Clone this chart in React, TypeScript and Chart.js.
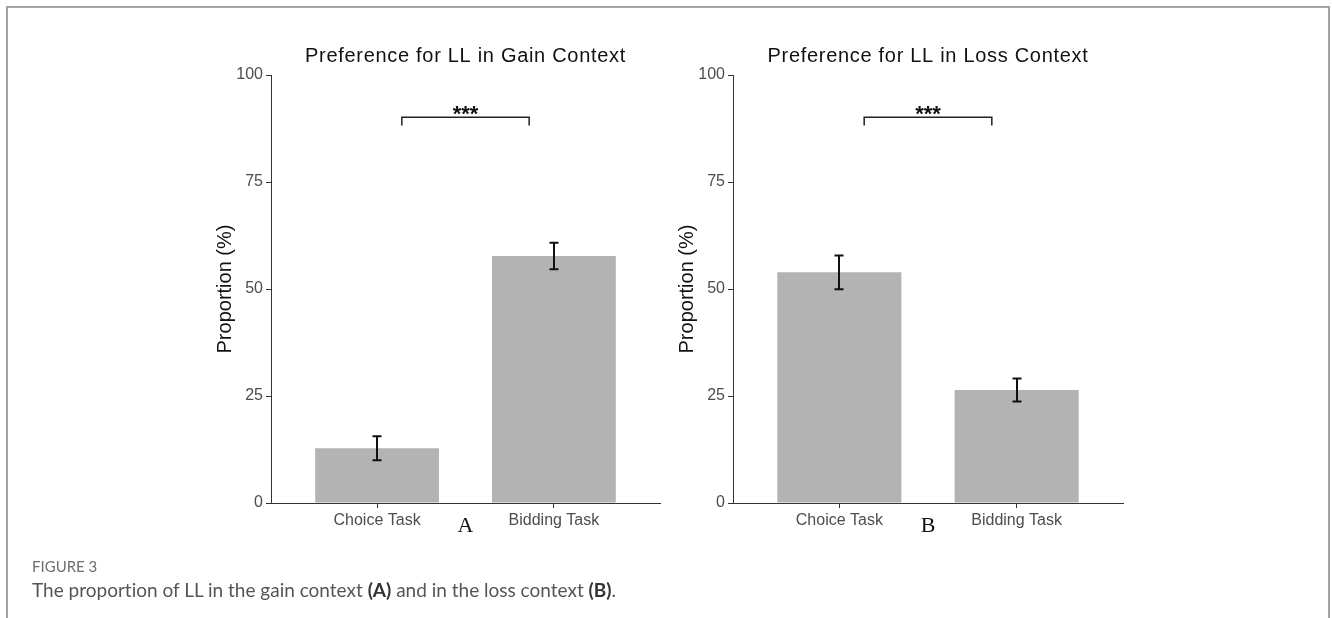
import React, { useEffect, useRef } from "react";
import { Chart, registerables } from "chart.js";

Chart.register(...registerables);

// ---- data ----
const categories = ["Choice Task", "Bidding Task"];
const gainValues = [12.8, 57.7];
const gainErrors = [2.8, 3.1];
const lossValues = [53.9, 26.4];
const lossErrors = [3.95, 2.7];
const yTicks = [0, 25, 50, 75, 100];
const sigLabel = "***";
const sigLevel = 90.1;
const sigDrop = 1.9;
const sigFrom = 1.14;
const sigTo = 1.86;
const gainTitle = "Preference for LL in Gain Context";
const lossTitle = "Preference for LL in Loss Context";
const yTitle = "Proportion (%)";

type PanelProps = {
  title: string;
  values: number[];
  errors: number[];
  letter: string;
  padLeft: number;
  padRight: number;
  left: number;
};

function makeOverlay(title: string, values: number[], errors: number[], letter: string) {
  return {
    id: "overlay",
    afterDatasetsDraw(chart: any) {
      const { ctx, chartArea, scales } = chart;
      const x = scales.x;
      const y = scales.y;
      ctx.save();
      // error bars
      ctx.strokeStyle = "#111";
      ctx.lineWidth = 2;
      values.forEach((v, i) => {
        const px = Math.round(x.getPixelForValue(i + 1));
        const top = y.getPixelForValue(v + errors[i]);
        const bot = y.getPixelForValue(v - errors[i]);
        ctx.beginPath();
        ctx.moveTo(px, top);
        ctx.lineTo(px, bot);
        ctx.moveTo(px - 4.5, top);
        ctx.lineTo(px + 4.5, top);
        ctx.moveTo(px - 4.5, bot);
        ctx.lineTo(px + 4.5, bot);
        ctx.stroke();
      });
      // significance bracket
      const bx1 = x.getPixelForValue(sigFrom);
      const bx2 = x.getPixelForValue(sigTo);
      const by = y.getPixelForValue(sigLevel);
      const byd = y.getPixelForValue(sigLevel - sigDrop);
      ctx.strokeStyle = "#222";
      ctx.lineWidth = 1.5;
      ctx.beginPath();
      ctx.moveTo(bx1, byd);
      ctx.lineTo(bx1, by);
      ctx.lineTo(bx2, by);
      ctx.lineTo(bx2, byd);
      ctx.stroke();
      ctx.fillStyle = "#111";
      ctx.textAlign = "center";
      ctx.textBaseline = "alphabetic";
      ctx.font = 'bold 22px "Liberation Sans", Arial, sans-serif';
      ctx.fillText(sigLabel, x.getPixelForValue((sigFrom + sigTo) / 2), by + 4);
      // title
      ctx.font = '20px "Liberation Sans", Arial, sans-serif';
      try { (ctx as any).letterSpacing = "0.7px"; } catch (e) {}
      ctx.fillText(title, (chartArea.left + chartArea.right) / 2, 62);
      try { (ctx as any).letterSpacing = "0px"; } catch (e) {}
      // panel letter
      ctx.font = '22px "Liberation Serif", "Times New Roman", serif';
      ctx.fillText(letter, x.getPixelForValue(1.5), 532);
      ctx.restore();
    },
  };
}

function Panel({ title, values, errors, letter, padLeft, padRight, left }: PanelProps) {
  const ref = useRef<HTMLCanvasElement | null>(null);
  useEffect(() => {
    if (!ref.current) return;
    const chart = new Chart(ref.current, {
      type: "bar",
      data: {
        datasets: [
          {
            data: values.map((v, i) => ({ x: i + 1, y: v })),
            backgroundColor: "#b3b3b3",
            borderWidth: 0,
            barPercentage: 0.7,
            categoryPercentage: 1,
          },
        ],
      },
      options: {
        animation: false,
        responsive: false,
        maintainAspectRatio: false,
        layout: { padding: { left: padLeft, right: padRight, top: 75, bottom: 85 } },
        plugins: { legend: { display: false }, tooltip: { enabled: false }, title: { display: false } },
        scales: {
          x: {
            type: "linear",
            min: 0.4,
            max: 2.6,
            offset: false,
            afterBuildTicks: (s: any) => {
              s.ticks = categories.map((_, i) => ({ value: i + 1 }));
            },
            afterFit: (s: any) => {
              s.height = 30;
            },
            ticks: {
              callback: (v: any) => categories[Math.round(Number(v)) - 1] ?? "",
              color: "#4d4d4d",
              font: { size: 16, family: '"Liberation Sans", Arial, sans-serif' },
              padding: 3,
              maxRotation: 0,
              autoSkip: false,
            },
            grid: { offset: false, drawOnChartArea: false, drawTicks: true, tickLength: 5, color: "#333" },
            border: { display: true, color: "#333", width: 1 },
          },
          y: {
            type: "linear",
            min: 0,
            max: 100,
            afterBuildTicks: (s: any) => {
              s.ticks = yTicks.map((v) => ({ value: v }));
            },
            afterFit: (s: any) => {
              s.width = 60;
            },
            ticks: {
              color: "#4d4d4d",
              font: { size: 16, family: '"Liberation Sans", Arial, sans-serif' },
              padding: 3,
            },
            grid: { offset: false, drawOnChartArea: false, drawTicks: true, tickLength: 5, color: "#333" },
            border: { display: true, color: "#333", width: 1 },
            title: {
              display: true,
              text: yTitle,
              color: "#111",
              font: { size: 20, family: '"Liberation Sans", Arial, sans-serif' },
              padding: { top: 2, bottom: 0 },
            },
          },
        },
      },
      plugins: [makeOverlay(title, values, errors, letter)],
    } as any);
    return () => chart.destroy();
  }, []);
  return (
    <canvas
      ref={ref}
      width={666}
      height={618}
      style={{ position: "absolute", left, top: 0, width: 666, height: 618 }}
    />
  );
}

export default function App() {
  return (
    <div
      style={{
        position: "fixed",
        left: 0,
        top: 0,
        width: 1332,
        height: 618,
        background: "#fff",
        overflow: "hidden",
      }}
    >
      <div
        style={{
          position: "absolute",
          left: 6,
          top: 6,
          width: 1324,
          height: 700,
          border: "2px solid #a3a3a3",
          borderBottom: "none",
          boxSizing: "border-box",
        }}
      />
      <Panel title={gainTitle} values={gainValues} errors={gainErrors} letter="A" padLeft={211} padRight={6} left={0} />
      <Panel title={lossTitle} values={lossValues} errors={lossErrors} letter="B" padLeft={7} padRight={209} left={666} />
      <div
        style={{
          position: "absolute",
          left: 32,
          top: 558,
          fontFamily: "Lato, 'Open Sans', sans-serif",
          fontSize: 15,
          lineHeight: "16px",
          color: "#6e6e6e",
          whiteSpace: "nowrap",
        }}
      >
        FIGURE 3
      </div>
      <div
        style={{
          position: "absolute",
          left: 32,
          top: 579,
          fontFamily: "Lato, 'Open Sans', sans-serif",
          fontSize: 19,
          lineHeight: "22px",
          color: "#555",
          whiteSpace: "nowrap",
          fontVariantLigatures: "none",
        }}
      >
        The proportion of LL in the gain context <b style={{ color: "#333" }}>(A)</b> and in the loss context{" "}
        <b style={{ color: "#333" }}>(B)</b>.
      </div>
    </div>
  );
}
